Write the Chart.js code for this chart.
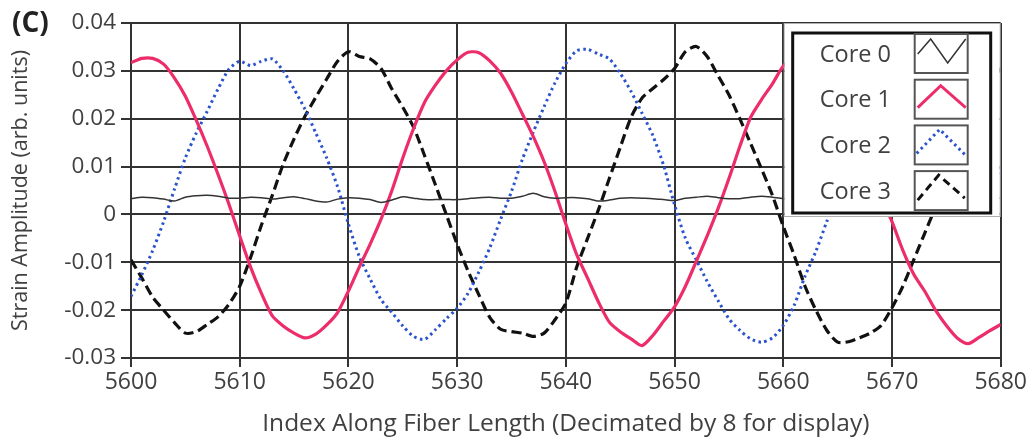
<!DOCTYPE html>
<html>
<head>
<meta charset="utf-8">
<script src="https://cdn.jsdelivr.net/npm/chart.js@4.4.0/dist/chart.umd.min.js"></script>
<style>
  html, body { margin: 0; padding: 0; background: #fff; }
</style>
</head>
<body>
<canvas id="strainChart" width="1029" height="441"></canvas>
<script>
const fiberIndex = [
  5600, 5601, 5602, 5603, 5604, 5605, 5606, 5607, 5608, 5609,
  5610, 5611, 5612, 5613, 5614, 5615, 5616, 5617, 5618, 5619,
  5620, 5621, 5622, 5623, 5624, 5625, 5626, 5627, 5628, 5629,
  5630, 5631, 5632, 5633, 5634, 5635, 5636, 5637, 5638, 5639,
  5640, 5641, 5642, 5643, 5644, 5645, 5646, 5647, 5648, 5649,
  5650, 5651, 5652, 5653, 5654, 5655, 5656, 5657, 5658, 5659,
  5660, 5661, 5662, 5663, 5664, 5665, 5666, 5667, 5668, 5669,
  5670, 5671, 5672, 5673, 5674, 5675, 5676, 5677, 5678, 5679, 5680
];

const core0 = [
  0.0033, 0.0036, 0.0035, 0.0032, 0.0028, 0.0036, 0.0039, 0.0040, 0.0038, 0.0034,
  0.0034, 0.0036, 0.0035, 0.0032, 0.0035, 0.0037, 0.0033, 0.0028, 0.0026, 0.0032,
  0.0035, 0.0034, 0.0031, 0.0025, 0.0030, 0.0037, 0.0034, 0.0031, 0.0031, 0.0031,
  0.0031, 0.0033, 0.0035, 0.0036, 0.0034, 0.0034, 0.0038, 0.0044, 0.0037, 0.0034,
  0.0035, 0.0035, 0.0033, 0.0028, 0.0030, 0.0034, 0.0035, 0.0034, 0.0033, 0.0031,
  0.0029, 0.0034, 0.0036, 0.0038, 0.0035, 0.0033, 0.0033, 0.0036, 0.0038, 0.0036,
  0.0033, 0.0034, 0.0036, 0.0035, 0.0033, 0.0032, 0.0034, 0.0036, 0.0035, 0.0033,
  0.0034, 0.0035, 0.0033, 0.0032, 0.0034, 0.0036, 0.0035, 0.0033, 0.0034, 0.0035, 0.0034
];

const core1 = [
  0.0317, 0.0326, 0.0326, 0.0314, 0.0285, 0.0247, 0.0197, 0.0143, 0.0084, 0.0022,
  -0.0045, -0.0110, -0.0165, -0.0212, -0.0233, -0.0248, -0.0258, -0.0250, -0.0231, -0.0205,
  -0.0160, -0.0110, -0.0062, -0.0010, 0.0050, 0.0118, 0.0180, 0.0234, 0.0270, 0.0300,
  0.0323, 0.0339, 0.0338, 0.0321, 0.0295, 0.0256, 0.0210, 0.0163, 0.0110, 0.0048,
  -0.0020, -0.0084, -0.0133, -0.0183, -0.0225, -0.0245, -0.0260, -0.0274, -0.0253, -0.0223,
  -0.0193, -0.0150, -0.0098, -0.0045, 0.0012, 0.0075, 0.0142, 0.0203, 0.0240, 0.0273,
  0.0310, 0.0330, 0.0338, 0.0330, 0.0305, 0.0265, 0.0210, 0.0150, 0.0090, 0.0035,
  -0.0015, -0.0075, -0.0125, -0.0160, -0.0200, -0.0232, -0.0258, -0.0270, -0.0257, -0.0243, -0.0230
];

const core2 = [
  -0.0171, -0.0126, -0.0075, -0.0015, 0.0053, 0.0118, 0.0170, 0.0215, 0.0262, 0.0303,
  0.0320, 0.0311, 0.0320, 0.0325, 0.0300, 0.0262, 0.0220, 0.0170, 0.0118, 0.0058,
  -0.0020, -0.0088, -0.0135, -0.0178, -0.0205, -0.0233, -0.0255, -0.0261, -0.0241, -0.0218,
  -0.0196, -0.0165, -0.0120, -0.0070, -0.0010, 0.0048, 0.0115, 0.0172, 0.0225, 0.0275,
  0.0315, 0.0342, 0.0345, 0.0335, 0.0325, 0.0295, 0.0257, 0.0212, 0.0165, 0.0102,
  0.0020, -0.0050, -0.0095, -0.0140, -0.0180, -0.0218, -0.0242, -0.0260, -0.0267, -0.0258,
  -0.0232, -0.0190, -0.0129, -0.0077, -0.0015, 0.0045, 0.0105, 0.0160, 0.0210, 0.0250,
  0.0285, 0.0310, 0.0325, 0.0330, 0.0325, 0.0305, 0.0275, 0.0235, 0.0190, 0.0140, 0.0085
];

const core3 = [
  -0.0095, -0.0133, -0.0173, -0.0200, -0.0226, -0.0248, -0.0245, -0.0230, -0.0214, -0.0188,
  -0.0150, -0.0090, -0.0022, 0.0040, 0.0105, 0.0158, 0.0205, 0.0245, 0.0283, 0.0320,
  0.0340, 0.0330, 0.0325, 0.0305, 0.0262, 0.0224, 0.0182, 0.0123, 0.0062, 0.0000,
  -0.0062, -0.0118, -0.0168, -0.0215, -0.0240, -0.0245, -0.0248, -0.0255, -0.0248, -0.0220,
  -0.0185, -0.0110, -0.0050, 0.0010, 0.0075, 0.0140, 0.0203, 0.0243, 0.0263, 0.0282,
  0.0305, 0.0340, 0.0351, 0.0330, 0.0290, 0.0250, 0.0200, 0.0148, 0.0095, 0.0040,
  -0.0025, -0.0085, -0.0150, -0.0200, -0.0242, -0.0267, -0.0266, -0.0258, -0.0248, -0.0232,
  -0.0195, -0.0150, -0.0095, -0.0040, 0.0015, 0.0070, 0.0130, 0.0185, 0.0235, 0.0275, 0.0305
];

const seriesNames = ['Core 0', 'Core 1', 'Core 2', 'Core 3'];
const textColor = '#404040';
const gridColor = '#333';
const fontFamily = '"Open Sans", "Noto Sans", sans-serif';

function toPoints(values) {
  return fiberIndex.map((x, i) => ({ x: x, y: values[i] }));
}

// legend box drawn over the top-right corner of the plot, like the original
const coreLegend = {
  id: 'coreLegend',
  afterDatasetsDraw(chart) {
    const { ctx, chartArea: a } = chart;
    ctx.save();
    ctx.fillStyle = '#fff';
    ctx.fillRect(a.right - 216, a.top + 1, 215, 192);
    ctx.strokeStyle = '#b0b0b0';
    ctx.lineWidth = 1;
    ctx.strokeRect(a.right - 216.5, a.top + 0.5, 216, 193);

    const fx = a.right - 208, fy = a.top + 10, fw = 198, fh = 180;
    ctx.strokeStyle = '#111';
    ctx.lineWidth = 3;
    ctx.strokeRect(fx, fy, fw, fh);

    const rowH = 45.7;
    const glyphs = [
      { color: '#333', width: 1.5, dash: [], pts: [[3, 20], [16, 5], [33, 29], [51, 5]] },
      { color: '#ec2d6a', width: 3, dash: [], pts: [[3, 28], [26, 6], [51, 28]] },
      { color: '#2a52cc', width: 3, dash: [2.5, 3.5], pts: [[2, 28], [25, 4], [51, 30]] },
      { color: '#111', width: 3, dash: [8, 5], pts: [[3, 29], [24, 4], [50, 27]] }
    ];
    ctx.font = '23.5px ' + fontFamily;
    ctx.textBaseline = 'middle';
    ctx.textAlign = 'left';
    seriesNames.forEach((name, i) => {
      const cy = fy + 22 + i * rowH;
      ctx.fillStyle = textColor;
      ctx.fillText(name, fx + 27, cy);
      const bx = fx + 122, by = cy - 21;
      ctx.setLineDash([]);
      ctx.strokeStyle = '#555';
      ctx.lineWidth = 2;
      ctx.strokeRect(bx, by, 53, 39);
      const g = glyphs[i];
      ctx.strokeStyle = g.color;
      ctx.lineWidth = g.width;
      ctx.setLineDash(g.dash);
      ctx.beginPath();
      g.pts.forEach((p, k) => k ? ctx.lineTo(bx + p[0], by + p[1]) : ctx.moveTo(bx + p[0], by + p[1]));
      ctx.stroke();
    });
    ctx.restore();
  },
  afterDraw(chart) {
    const ctx = chart.ctx;
    ctx.save();
    ctx.font = 'bold 28px ' + fontFamily;
    ctx.fillStyle = '#222';
    ctx.textBaseline = 'middle';
    ctx.fillText('(C)', 12, 24);
    ctx.restore();
  }
};

new Chart(document.getElementById('strainChart'), {
  type: 'line',
  data: {
    datasets: [
      { label: seriesNames[0], data: toPoints(core0), borderColor: '#333', borderWidth: 1.5 },
      { label: seriesNames[1], data: toPoints(core1), borderColor: '#ec2d6a', borderWidth: 3.2 },
      { label: seriesNames[2], data: toPoints(core2), borderColor: '#2a52cc', borderWidth: 3, borderDash: [2.5, 3.5] },
      { label: seriesNames[3], data: toPoints(core3), borderColor: '#111', borderWidth: 3.2, borderDash: [10, 5] }
    ]
  },
  options: {
    responsive: false,
    animation: false,
    devicePixelRatio: 1,
    layout: { padding: { top: 23, right: 26, bottom: 0, left: 0 } },
    elements: {
      point: { radius: 0 },
      line: { tension: 0.25, fill: false }
    },
    plugins: {
      legend: { display: false },
      tooltip: { enabled: false }
    },
    scales: {
      x: {
        type: 'linear',
        min: 5600,
        max: 5680,
        afterFit: s => { s.height = 83; },
        ticks: {
          stepSize: 10,
          color: textColor,
          padding: 2,
          maxRotation: 0,
          font: { family: fontFamily, size: 23 },
          callback: v => String(v)
        },
        grid: { color: gridColor, lineWidth: 2, tickLength: 9, tickColor: gridColor },
        border: { color: gridColor, width: 2 },
        title: {
          display: true,
          text: 'Index Along Fiber Length (Decimated by 8 for display)',
          color: textColor,
          font: { family: fontFamily, size: 24.5 },
          padding: { top: 0, bottom: 2 }
        }
      },
      y: {
        min: -0.03,
        max: 0.04,
        afterFit: s => { s.width = 131; },
        ticks: {
          stepSize: 0.01,
          color: textColor,
          padding: 5,
          font: { family: fontFamily, size: 22.5 },
          callback: v => Math.abs(v) < 1e-9 ? '0' : v.toFixed(2)
        },
        grid: { color: gridColor, lineWidth: 2, tickLength: 10, tickColor: gridColor },
        border: { color: gridColor, width: 2 },
        title: {
          display: true,
          text: 'Strain Amplitude (arb. units)',
          color: textColor,
          font: { family: fontFamily, size: 21.5 },
          padding: { top: 8, bottom: 0 }
        }
      }
    }
  },
  plugins: [coreLegend]
});
</script>
</body>
</html>
